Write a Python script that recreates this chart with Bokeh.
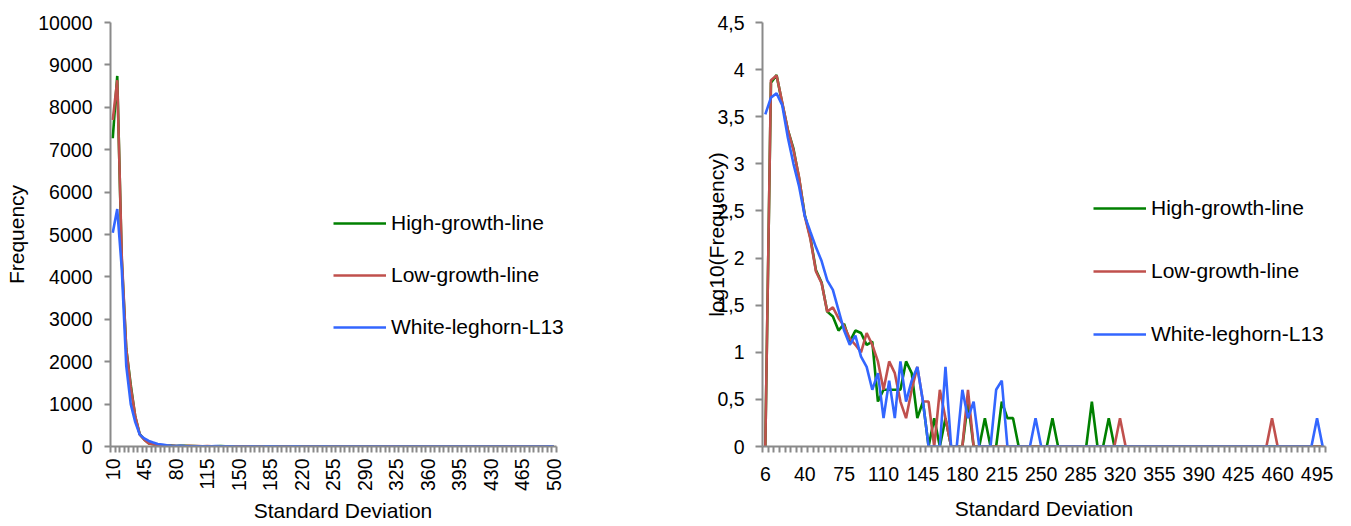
import math
import numpy as np
from bokeh.plotting import figure
from bokeh.models import FixedTicker, CustomJSTickFormatter, Legend, LegendItem
from bokeh.layouts import row
from bokeh.embed import file_html
from bokeh.resources import INLINE

# ---------------- data ----------------
# categories of the right (log) chart: 6, 10, 15, ..., 500 ; left chart uses 10 .. 500
sd_categories = [6] + list(range(10, 501, 5))

high_growth = [0, 7270, 8740, 4400, 2300, 1450, 700, 290, 165, 74,
               55, 27, 24, 17, 20, 13, 17, 16, 12, 13,
               3, 4, 4, 4, 4, 8, 6, 2, 3, 1,
               2, 1, 2, 1, 1, 1, 3, 1, 0, 2,
               1, 0, 3, 2, 2, 1, 0, 0, 0, 0,
               0, 2, 0, 0, 0, 0, 0, 0, 3, 0,
               0, 2, 0, 0, 0, 0, 0, 0, 0, 0,
               0, 0, 0, 0, 0, 0, 0, 0, 0, 0,
               0, 0, 0, 0, 0, 0, 0, 0, 0, 0,
               0, 0, 0, 0, 0, 0, 0, 0, 0, 0]

low_growth = [0, 7700, 8640, 4500, 2300, 1400, 720, 280, 160, 72,
              54, 27, 30, 23, 19, 14, 12, 10, 16, 12,
              8, 4, 8, 6, 3, 2, 4, 7, 3, 3,
              0, 4, 2, 0, 0, 0, 4, 0, 0, 0,
              0, 0, 0, 0, 0, 0, 0, 0, 0, 0,
              0, 0, 0, 0, 0, 0, 0, 0, 0, 0,
              0, 0, 0, 2, 0, 0, 0, 0, 0, 0,
              0, 0, 0, 0, 0, 0, 0, 0, 0, 0,
              0, 0, 0, 0, 0, 0, 0, 0, 0, 0,
              2, 0, 0, 0, 0, 0, 0, 0, 0, 0]

white_leghorn = [3350, 5040, 5600, 4200, 1900, 1000, 575, 280, 190, 130,
                 93, 58, 46, 28, 17, 12, 15, 9, 7, 4,
                 6, 2, 5, 2, 8, 3, 5, 7, 3, 1,
                 0, 0, 7, 0, 0, 4, 2, 3, 0, 0,
                 0, 4, 5, 0, 0, 0, 0, 0, 2, 0,
                 0, 0, 0, 0, 0, 0, 0, 0, 0, 0,
                 0, 0, 0, 0, 0, 0, 0, 0, 0, 0,
                 0, 0, 0, 0, 0, 0, 0, 0, 0, 0,
                 0, 0, 0, 0, 0, 0, 0, 0, 0, 0,
                 0, 0, 0, 0, 0, 0, 0, 0, 2, 0]

series_names = ["High-growth-line", "Low-growth-line", "White-leghorn-L13"]
series_colors = ["#008000", "#C0504D", "#3366FF"]
series_counts = [high_growth, low_growth, white_leghorn]

FONT = "Liberation Sans"
TICK_SIZE = "19.5px"
TITLE_SIZE = "21px"
AXIS_GRAY = "#8a8a8a"
LW = 2.6


def style_common(p):
    p.outline_line_color = None
    p.xgrid.visible = False
    p.ygrid.visible = False
    p.background_fill_color = "white"
    p.border_fill_color = "white"
    for ax in (p.xaxis[0], p.yaxis[0]):
        ax.axis_line_color = AXIS_GRAY
        ax.axis_line_width = 2
        ax.major_tick_line_color = AXIS_GRAY
        ax.major_tick_line_width = 2
        ax.minor_tick_line_color = AXIS_GRAY
        ax.minor_tick_line_width = 2
        ax.major_tick_in = 0
        ax.minor_tick_in = 0
        ax.major_label_text_font = FONT
        ax.major_label_text_font_size = TICK_SIZE
        ax.major_label_text_color = "black"
        ax.axis_label_text_font = FONT
        ax.axis_label_text_font_size = TITLE_SIZE
        ax.axis_label_text_font_style = "normal"
        ax.axis_label_text_color = "black"


def add_legend(p, renderers, loc, spacing):
    items = [LegendItem(label=n, renderers=[r]) for n, r in zip(series_names, renderers)]
    leg = Legend(items=items, location=loc, spacing=spacing, padding=0, margin=0,
                 glyph_width=53, glyph_height=24, label_height=24, label_standoff=5,
                 label_text_font=FONT, label_text_font_size=TITLE_SIZE,
                 label_text_color="black", background_fill_alpha=0,
                 border_line_color=None)
    p.add_layout(leg)


# ---------------- left chart: Frequency ----------------
left_cats = sd_categories[1:]
nL = len(left_cats)
xL = list(range(nL))

# frame: 110 .. 575 (465 px) at 4.5 px per category; axis line stops at the last category
p1 = figure(width=640, height=526, output_backend="svg", toolbar_location=None,
            x_range=(-0.5, -0.5 + 465 / 4.5), y_range=(0, 10000),
            min_border_left=110, min_border_right=65, min_border_top=22,
            min_border_bottom=80)
style_common(p1)

r1 = []
for name, col, cnt in zip(series_names, series_colors, series_counts):
    r1.append(p1.line(xL, cnt[1:], line_color=col, line_width=LW))

p1.xaxis.bounds = (-0.5, nL - 0.5)
p1.xaxis.ticker = FixedTicker(ticks=list(range(0, nL, 7)),
                              minor_ticks=[k - 0.5 for k in range(nL + 1)])
p1.xaxis.formatter = CustomJSTickFormatter(args=dict(labels=[str(c) for c in left_cats]),
                                           code="return labels[Math.round(tick)];")
p1.xaxis.major_label_orientation = math.pi / 2
p1.xaxis.major_tick_out = 6
p1.xaxis.major_tick_line_color = None
p1.xaxis.minor_tick_out = 6
p1.xaxis.major_label_standoff = 6
p1.xaxis.axis_label = "Standard Deviation"
p1.xaxis.axis_label_standoff = 5

p1.yaxis.ticker = FixedTicker(ticks=list(range(0, 10001, 1000)), minor_ticks=[])
p1.yaxis.formatter = CustomJSTickFormatter(code="return tick.toFixed(0);")
p1.yaxis.major_tick_out = 6
p1.yaxis.major_label_standoff = 12
p1.yaxis.axis_label = "Frequency"
p1.yaxis.axis_label_standoff = 7

add_legend(p1, r1, (223, 107), 28)

# ---------------- right chart: log10(Frequency) ----------------
nR = len(sd_categories)
xR = list(range(nR))

p2 = figure(width=711, height=526, output_backend="svg", toolbar_location=None,
            x_range=(-0.5, nR - 0.5), y_range=(0, 4.5),
            min_border_left=122, min_border_right=26, min_border_top=20,
            min_border_bottom=80)
style_common(p2)

r2 = []
for name, col, cnt in zip(series_names, series_colors, series_counts):
    logv = np.log10(np.maximum(np.array(cnt, dtype=float), 1.0))
    r2.append(p2.line(xR, logv, line_color=col, line_width=LW))

p2.xaxis.ticker = FixedTicker(ticks=list(range(0, nR, 7)),
                              minor_ticks=[k - 0.5 for k in range(nR + 1)])
p2.xaxis.formatter = CustomJSTickFormatter(args=dict(labels=[str(c) for c in sd_categories]),
                                           code="return labels[Math.round(tick)];")
p2.xaxis.major_tick_out = 6
p2.xaxis.major_tick_line_color = None
p2.xaxis.minor_tick_out = 6
p2.xaxis.major_label_standoff = 14
p2.xaxis.axis_label = "Standard Deviation"
p2.xaxis.axis_label_standoff = 13

p2.yaxis.ticker = FixedTicker(ticks=[i * 0.5 for i in range(10)], minor_ticks=[])
p2.yaxis.formatter = CustomJSTickFormatter(
    code="return (Math.round(tick*10)/10).toString().replace('.', ',');")
p2.yaxis.major_tick_out = 7
p2.yaxis.major_label_standoff = 11
p2.yaxis.axis_label = "log10(Frequency)"
p2.yaxis.axis_label_standoff = -14

add_legend(p2, r2, (331, 100), 39)

layout = row(p1, p2)
open("out.html", "w").write(file_html(layout, INLINE))
